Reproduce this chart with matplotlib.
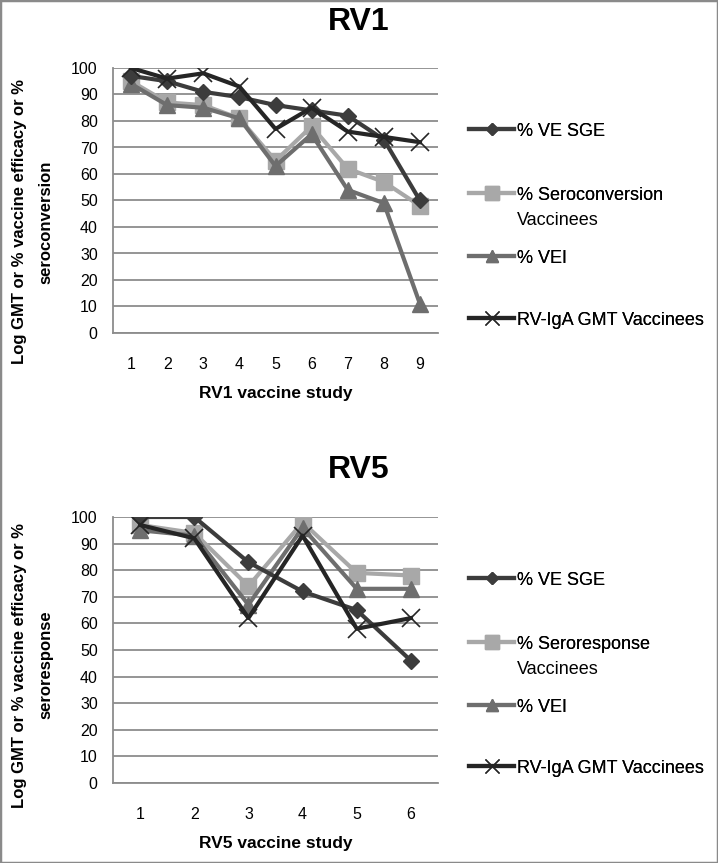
import matplotlib
matplotlib.use("Agg")
import matplotlib.pyplot as plt
from matplotlib.patches import Rectangle
from matplotlib.lines import Line2D

plt.rcParams['font.family'] = ['Liberation Sans', 'DejaVu Sans']

# RV1 data
rv1_studies = [1, 2, 3, 4, 5, 6, 7, 8, 9]
rv1_ve_sge = [97, 95, 91, 89, 86, 84, 82, 73, 50]
rv1_seroconv = [95, 87, 86, 81, 65, 78, 62, 57, 48]
rv1_vei = [94, 86, 85, 81, 63, 75, 54, 49, 11]
rv1_iga = [100, 96, 98, 93, 77, 85, 76, 74, 72]

# RV5 data
rv5_studies = [1, 2, 3, 4, 5, 6]
rv5_ve_sge = [100, 100, 83, 72, 65, 46]
rv5_serorsp = [97, 94, 74, 98, 79, 78]
rv5_vei = [95, 93, 67, 96, 73, 73]
rv5_iga = [97, 92, 62, 93, 58, 62]

yticks = [0, 10, 20, 30, 40, 50, 60, 70, 80, 90, 100]

C_SGE = '#3c3c3c'
C_SERO = '#a8a8a8'
C_VEI = '#6e6e6e'
C_IGA = '#252525'

W, H = 718, 863
fig = plt.figure(figsize=(W / 100, H / 100), dpi=100)
fig.patches.append(Rectangle((0, 0), 1, 1, transform=fig.transFigure,
                             fill=False, edgecolor='#8a8a8a', linewidth=2.5))


def fr(x0, y0, x1, y1):
    return [x0 / W, 1 - y1 / H, (x1 - x0) / W, (y1 - y0) / H]


def fy(y):
    return 1 - y / H


def draw(ax, x, sge, sero, vei, iga, sero_label, title, xlabel, ylabel2,
         title_y, xlabel_y, ylab_cy, leg_ys):
    ax.plot(x, sge, color=C_SGE, lw=3, marker='D', ms=8, zorder=3)
    ax.plot(x, sero, color=C_SERO, lw=3, marker='s', ms=11, zorder=2)
    ax.plot(x, vei, color=C_VEI, lw=3, marker='^', ms=11, zorder=2)
    ax.plot(x, iga, color=C_IGA, lw=3, marker='x', ms=13, mew=1.2, zorder=4)
    ax.set_xlim(0.5, len(x) + 0.5)
    ax.set_ylim(0, 100)
    ax.set_xticks(x)
    ax.set_yticks(yticks)
    ax.tick_params(axis='both', length=0, labelsize=11.5, colors='black')
    ax.tick_params(axis='x', pad=17)
    ax.tick_params(axis='y', pad=11)
    ax.yaxis.grid(True, color='#8c8c8c', lw=1.3)
    ax.set_axisbelow(True)
    for s in ['top', 'right']:
        ax.spines[s].set_visible(False)
    for s in ['left', 'bottom']:
        ax.spines[s].set_color('#8c8c8c')
        ax.spines[s].set_linewidth(1.3)

    labels = ['% VE SGE', sero_label[0], '% VEI', 'RV-IgA GMT Vaccinees']
    handles = [
        Line2D([], [], color=C_SGE, lw=3, marker='D', ms=6),
        Line2D([], [], color=C_SERO, lw=3, marker='s', ms=10),
        Line2D([], [], color=C_VEI, lw=3, marker='^', ms=9),
        Line2D([], [], color=C_IGA, lw=3, marker='x', ms=10, mew=1.0),
    ]
    for h, lab, yy in zip(handles, labels, leg_ys):
        lg = fig.legend(handles=[h], labels=[lab], loc='center left',
                        bbox_to_anchor=(469 / W, fy(yy)), frameon=False,
                        fontsize=13, handlelength=2.5, handletextpad=0.15,
                        borderaxespad=0, borderpad=0)
        fig.add_artist(lg)
    fig.text(517 / W, fy(leg_ys[1] + 25), sero_label[1], ha='left', va='center',
             fontsize=13)

    fig.text(0.5, fy(title_y), title, ha='center', va='center',
             fontsize=23, fontweight='bold')
    fig.text(276 / W, fy(xlabel_y), xlabel, ha='center', va='center',
             fontsize=12.5, fontweight='bold')
    fig.text(20 / W, fy(ylab_cy), 'Log GMT or % vaccine efficacy or %',
             rotation=90, ha='center', va='center', fontsize=12, fontweight='bold')
    fig.text(46 / W, fy(ylab_cy), ylabel2,
             rotation=90, ha='center', va='center', fontsize=12, fontweight='bold')


ax1 = fig.add_axes(fr(113, 68, 438, 333))
draw(ax1, rv1_studies, rv1_ve_sge, rv1_seroconv, rv1_vei, rv1_iga,
     ('% Seroconversion', 'Vaccinees'), 'RV1', 'RV1 vaccine study', 'seroconversion',
     22, 393, 222, [131, 195, 258, 320])

ax2 = fig.add_axes(fr(113, 517, 438, 783))
draw(ax2, rv5_studies, rv5_ve_sge, rv5_serorsp, rv5_vei, rv5_iga,
     ('% Seroresponse', 'Vaccinees'), 'RV5', 'RV5 vaccine study', 'seroresponse',
     470, 843, 665, [580, 644, 707, 768])

fig.savefig('out.png', dpi=100)
